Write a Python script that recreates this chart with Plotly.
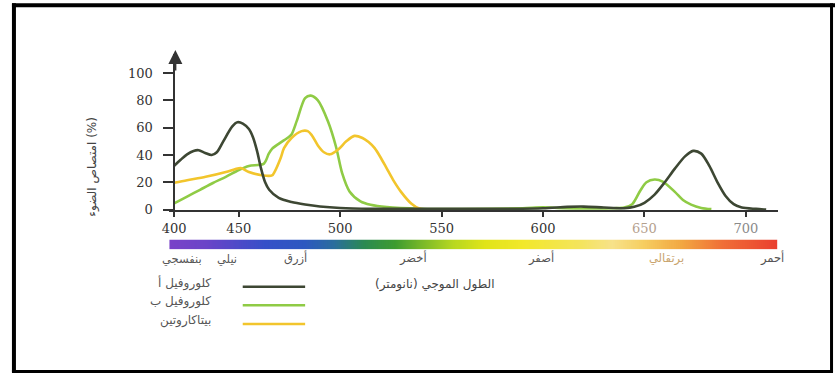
import numpy as np
import plotly.graph_objects as go

W, H = 835, 381

# ---------------- data ----------------
chl_a_wl = [400, 405, 410, 415, 419, 424, 429, 433, 438, 445, 449, 452, 455, 457, 459,
            461, 463, 465, 469.7, 476, 482.7, 490, 500, 515, 550, 580, 600, 612, 620, 630,
            640, 645, 650, 655, 660, 665, 670, 674, 678, 682, 686, 690, 694, 698, 705, 710]
chl_a_val = [32, 36.5, 40.5, 43, 43.5, 41.5, 40, 42, 50, 61, 64, 63, 59, 53, 43,
             30, 20, 14.5, 8.5, 5.5, 3.7, 2.3, 1.2, 0.6, 0.5, 0.6, 1, 2, 2.2, 1.5,
             1, 2, 5, 11, 20, 30, 39, 43, 41, 32, 20, 10, 4, 1.5, 0.5, 0]

chl_b_wl = [400, 410, 420, 430, 440, 450, 455, 462.4, 464.8, 466.4, 470, 474.5, 476, 478.6,
            482.7, 485.5, 489, 494, 498, 501, 504.6, 510, 515, 523, 540, 560, 590, 600,
            610, 625, 635, 640, 644, 648, 651, 655, 659, 665, 669, 673, 678, 683]
chl_b_val = [4.5, 9.5, 14.5, 19.5, 24, 29, 32, 33.7, 41, 44.5, 48.5, 53, 55, 65,
             81.7, 83.5, 80, 64.5, 45.7, 26.5, 13.3, 6, 3.5, 1.8, 0.6, 0.4, 1, 1.6,
             1, 0.8, 1, 1.5, 4, 14, 20, 22, 20.5, 13, 7, 3.6, 1.2, 0.3]

carot_wl = [400, 410, 424.4, 440, 447, 451, 455, 462, 466.4, 467.6, 470.7, 472.3, 476, 481,
            484, 486, 489, 492, 495, 499, 503, 507, 511, 514, 517, 520, 523, 526, 530,
            535, 539, 545]
carot_val = [19.6, 21.5, 24, 27.5, 29.5, 30.5, 27.5, 25, 25, 27.5, 38, 45, 52.5, 57.5,
             57.5, 54.5, 47, 42, 40.5, 44, 50, 54, 52.5, 49.5, 45, 38, 30, 22, 13,
             4.5, 0.8, 0]

x_ticks = [400, 450, 500, 550, 600, 650, 700]
y_ticks = [0, 20, 40, 60, 80, 100]

series_names = ["كلوروفيل أ", "كلوروفيل ب", "بيتاكاروتين"]
series_colors = ["#3d4733", "#8fcb45", "#f2c52c"]

band_names = ["بنفسجي", "نيلي", "أزرق", "أخضر", "أصفر", "برتقالي", "أحمر"]
band_wl = [406, 441, 478, 536, 599, 661, 713]

spectrum_wl = [396, 425, 450, 463, 483, 497, 512, 527, 541, 556, 571, 590, 619, 634, 649, 668, 688, 715]
spectrum_col = ["#7a42c8", "#6a44c8", "#4e4ac8", "#3550c8", "#2c58c0", "#2a6e9c", "#2a8a52",
                "#3e9c30", "#7cba28", "#b8d820", "#e0e418", "#f2e82a", "#f4e45e", "#f7e28a",
                "#f6cf62", "#f2a842", "#f07036", "#ea4030"]

# -------- non-linear axis (400-450 section compressed as in the original) --------
def t(wl):
    wl = np.asarray(wl, dtype=float)
    return np.where(wl >= 450, wl, 450 - (450 - wl) * 0.637)

PX_PER_NM = 2.048
def t_at_px(px):
    return 450 + (px - 233) / PX_PER_NM

x0_px, x1_px = 163, 777
y_bot_px, y_top_px = 214, 55
def yval_px(px):
    return (213.5 - px) / 1.39

def px(x):
    return x / W
def py(y):
    return 1 - y / H

fig = go.Figure()

# spectrum bar
grid = np.arange(396, 716, 1.0)
lo, hi = spectrum_wl[0], spectrum_wl[-1]
cscale = [[(w - lo) / (hi - lo), c] for w, c in zip(spectrum_wl, spectrum_col)]
fig.add_trace(go.Heatmap(x=t(grid), y=[0], z=[grid], colorscale=cscale, zmin=lo, zmax=hi,
                         showscale=False, xaxis="x", yaxis="y2", hoverinfo="skip"))

for wl, val, name, col in zip([chl_b_wl, carot_wl, chl_a_wl],
                              [chl_b_val, carot_val, chl_a_val],
                              [series_names[1], series_names[2], series_names[0]],
                              [series_colors[1], series_colors[2], series_colors[0]]):
    fig.add_trace(go.Scatter(x=t(wl), y=val, mode="lines", name=name,
                             line=dict(color=col, width=2.6, shape="spline", smoothing=0.8),
                             showlegend=False))

tick_text = []
for v in x_ticks:
    if v == 650:
        tick_text.append('<span style="color:#b4a08e">650</span>')
    elif v == 700:
        tick_text.append('<span style="color:#8a8a8a">700</span>')
    else:
        tick_text.append(str(v))

axis_col = "#333333"
fig.update_layout(
    width=W, height=H, autosize=False,
    margin=dict(l=0, r=0, t=0, b=0),
    paper_bgcolor="white", plot_bgcolor="rgba(0,0,0,0)",
    showlegend=False,
    xaxis=dict(domain=[px(x0_px), px(x1_px)], range=[t_at_px(x0_px), t_at_px(x1_px)],
               tickvals=list(t(x_ticks)), ticktext=tick_text,
               showline=True, linecolor=axis_col, linewidth=2,
               ticks="outside", ticklen=5, tickwidth=1.5, tickcolor=axis_col,
               showgrid=False, zeroline=False, anchor="y",
               tickfont=dict(family="DejaVu Serif", size=13, color="#333")),
    yaxis=dict(domain=[py(y_bot_px), py(y_top_px)], range=[yval_px(y_bot_px), yval_px(y_top_px)],
               tickvals=y_ticks, showline=True, linecolor=axis_col, linewidth=2,
               ticks="outside", ticklen=10, tickwidth=1.5, tickcolor=axis_col,
               ticklabelstandoff=8,
               showgrid=False, zeroline=False, anchor="free", position=px(168),
               tickfont=dict(family="DejaVu Serif", size=13, color="#333")),
    yaxis2=dict(domain=[py(254), py(244)], range=[-0.5, 0.5], visible=False, anchor="x"),
)

AR_FONT = "DejaVu Sans"
dy = 7  # Arabic glyphs sit high inside the annotation box
ann = []
# y axis arrow head
ann.append(dict(x=px(169), y=py(51), xref="paper", yref="paper", text="", showarrow=True,
                ax=0, ay=22, arrowhead=2, arrowsize=1.4, arrowwidth=2, arrowcolor=axis_col))
# y axis title
ann.append(dict(x=px(76), y=py(170), xref="paper", yref="paper", text="امتصاص الضوء (%)",
                textangle=-90, showarrow=False,
                font=dict(family=AR_FONT, size=12, color="#444")))
# band labels
for name, wl in zip(band_names, band_wl):
    col = "#c9a46e" if name == "برتقالي" else "#555"
    ann.append(dict(x=t(wl).item(), y=py(266 + dy), xref="x", yref="paper", text=name,
                    showarrow=False, font=dict(family=AR_FONT, size=11.5, color=col)))
# x title
ann.append(dict(x=px(431), y=py(293 + dy), xref="paper", yref="paper",
                text="الطول الموجي (نانومتر)",
                showarrow=False, font=dict(family=AR_FONT, size=12, color="#444")))
# legend
shapes = []
for i, (name, col) in enumerate(zip(series_names, series_colors)):
    yy = 292 + i * 19
    ann.append(dict(x=px(207), y=py(yy - 1 + dy), xref="paper", yref="paper", text=name,
                    xanchor="right", showarrow=False,
                    font=dict(family=AR_FONT, size=12, color="#555")))
    shapes.append(dict(type="line", xref="paper", yref="paper", x0=px(237), x1=px(300),
                       y0=py(yy), y1=py(yy), line=dict(color=col, width=2.5)))

# frame
shapes += [
    dict(type="line", xref="paper", yref="paper", x0=px(4), x1=px(835), y0=py(5.3), y1=py(5.3),
         line=dict(color="black", width=4)),
    dict(type="line", xref="paper", yref="paper", x0=px(6), x1=px(6), y0=py(3.3), y1=py(379),
         line=dict(color="black", width=4)),
    dict(type="line", xref="paper", yref="paper", x0=px(4), x1=px(833), y0=py(378.5), y1=py(378.5),
         line=dict(color="black", width=3)),
    dict(type="line", xref="paper", yref="paper", x0=px(831.5), x1=px(831.5), y0=py(3.3), y1=py(379),
         line=dict(color="black", width=3)),
]
fig.update_layout(annotations=ann, shapes=shapes)

post = """
var d = document.getElementById('{plot_id}');
[document.documentElement, document.body, d.parentElement].forEach(function(e){
  e.style.margin='0'; e.style.padding='0'; e.style.overflow='hidden'; });
"""
fig.write_html("out.html", config={"responsive": False, "displayModeBar": False},
               post_script=post)
